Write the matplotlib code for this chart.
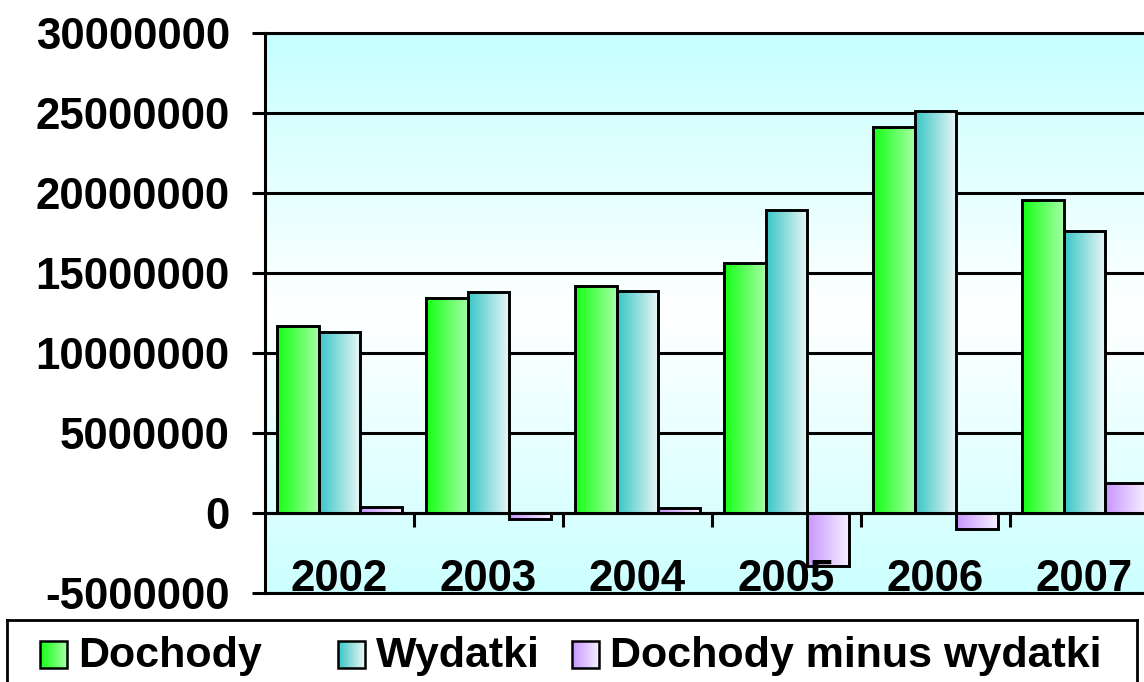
import numpy as np
import matplotlib.pyplot as plt
from matplotlib.colors import LinearSegmentedColormap
from matplotlib.ticker import FuncFormatter

years = ['2002', '2003', '2004', '2005', '2006', '2007']
dochody = [11690000, 13460000, 14190000, 15600000, 24100000, 19540000]
wydatki = [11330000, 13830000, 13860000, 18940000, 25100000, 17640000]
roznica = [360000, -370000, 330000, -3340000, -1000000, 1900000]
series_names = ['Dochody', 'Wydatki', 'Dochody minus wydatki']
series_colors = [('#14ff14', '#a4ffa4'), ('#38c6c6', '#ecf6f6'), ('#c896ff', '#f6efff')]

plt.rcParams['font.family'] = ['Liberation Sans', 'DejaVu Sans']
plt.rcParams['font.weight'] = 'bold'

W, H = 1144, 682
fig = plt.figure(figsize=(W / 100, H / 100), dpi=100)
# axes runs past the right edge, the reference is cropped there
ax = fig.add_axes([265 / W, 1 - 593 / H, 894 / W, 560 / H])

ymin, ymax = -5000000, 30000000
n = len(years)
x = np.arange(n)
bw = 0.28
grad = np.linspace(0, 1, 64).reshape(1, -1)

# background: cyan at top and bottom, white in the middle
bg = LinearSegmentedColormap.from_list('bg', ['#c6ffff', '#ffffff', '#ccffff'])
ax.imshow(np.linspace(0, 1, 256).reshape(-1, 1), cmap=bg, aspect='auto',
          extent=[-0.5, n - 0.5, ymin, ymax], zorder=0, origin='upper')

for i, (vals, cols) in enumerate(zip([dochody, wydatki, roznica], series_colors)):
    bars = ax.bar(x + (i - 1) * bw, vals, bw, facecolor='none', edgecolor='black',
                  linewidth=2.1, zorder=4)
    cmap = LinearSegmentedColormap.from_list('c%d' % i, cols)
    for b in bars:
        bx, by, w, h = b.get_x(), b.get_y(), b.get_width(), b.get_height()
        ax.imshow(grad, cmap=cmap, aspect='auto', extent=[bx, bx + w, by, by + h], zorder=3)

ax.set_xlim(-0.5, n - 0.5)
ax.set_ylim(ymin, ymax)
ax.set_yticks(np.arange(ymin, ymax + 1, 5000000))
ax.yaxis.set_major_formatter(FuncFormatter(lambda v, p: '%d' % v))
ax.yaxis.grid(True, color='black', linewidth=2.2)
ax.set_axisbelow(True)
ax.tick_params(axis='y', length=9.4, width=2.2, pad=16, labelsize=31.5)
ax.set_xticks([])

# category axis crosses at zero, ticks between categories
ax.vlines(x[1:] - 0.5, -875000, 0, color='black', linewidth=2.2, zorder=5)
ax.axhline(0, color='black', linewidth=2.2, zorder=5)
for xi, yr in zip(x, years):
    ax.text(xi, ymin + 125000, yr, ha='center', va='baseline', fontsize=31.5,
            fontweight='bold', zorder=6)

for s in ['left', 'bottom', 'top']:
    ax.spines[s].set_linewidth(2.2)
ax.spines['right'].set_visible(False)

# legend box
lg = fig.add_axes([7 / W, -0.02, 1130 / W, (H - 620) / H + 0.02])
lg.set_xticks([])
lg.set_yticks([])
for s in lg.spines.values():
    s.set_linewidth(2.0)
sq_x = [40, 338, 572]
for sx, name, cols, i in zip(sq_x, series_names, series_colors, range(3)):
    cmap = LinearSegmentedColormap.from_list('l%d' % i, cols)
    lg.imshow(grad, cmap=cmap, aspect='auto', extent=[sx, sx + 27, 668, 641], zorder=2)
    lg.add_patch(plt.Rectangle((sx, 641), 27, 27, fill=False, edgecolor='black',
                               linewidth=1.8, zorder=3))
    lg.text(sx + 38, 667, name, ha='left', va='baseline', fontsize=31, fontweight='bold')
lg.set_xlim(7, 1137)
lg.set_ylim(H + 0.02 * H, 620)

fig.savefig('out.png', dpi=100)
